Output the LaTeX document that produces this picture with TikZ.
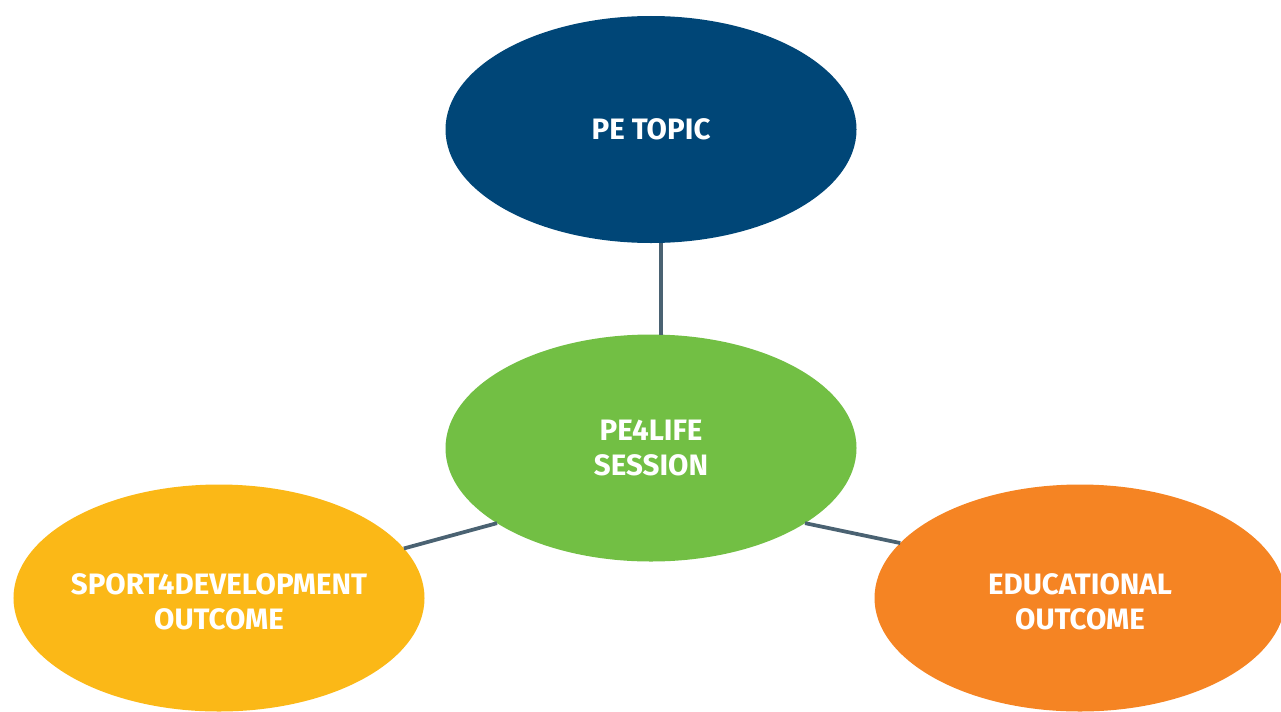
\documentclass[tikz,border=0pt]{standalone}
\usepackage{fontspec}
\setmainfont{Fira Sans}
\usetikzlibrary{shapes.geometric}
\definecolor{topicblue}{HTML}{004677}
\definecolor{sessiongreen}{HTML}{72BF44}
\definecolor{sportyellow}{HTML}{FBB817}
\definecolor{eduorange}{HTML}{F58423}
\definecolor{linkgray}{HTML}{4A6272}
\tikzset{
    bubble/.style={ellipse, minimum width=82.2mm, minimum height=45.4mm, inner sep=0pt, outer sep=0pt},
    every label/.style={text=white, align=center, inner sep=0pt, font=\fontsize{16.8}{20}\selectfont\bfseries},
    link/.style={draw=linkgray, line width=0.75mm}
}

\begin{document}
\begin{tikzpicture}[x=0.2mm, y=-0.2mm]
    \useasboundingbox (0,0) rectangle (1281,711);
    \clip (0,0) rectangle (1281,711);

    % the text sits in a label so it does not widen the ellipse
    \node[bubble, fill=topicblue, label={center:PE TOPIC}] (topic) at (651,129.5) {};
    \node[bubble, fill=sessiongreen, label={center:PE4LIFE\\SESSION}] (session) at (651,448) {};
    \node[bubble, fill=sportyellow, label={[yshift=-0.8mm]center:SPORT4DEVELOPMENT\\OUTCOME}] (sport) at (219,598) {};
    \node[bubble, fill=eduorange, label={[yshift=-0.8mm]center:EDUCATIONAL\\OUTCOME}] (edu) at (1080,598) {};

    \draw[link] (topic.275) -- (session.85);
    \draw[link] (sport.15.5) -- (session.206.4);
    \draw[link] (session.334.5) -- (edu.163.3);
\end{tikzpicture}
\end{document}
